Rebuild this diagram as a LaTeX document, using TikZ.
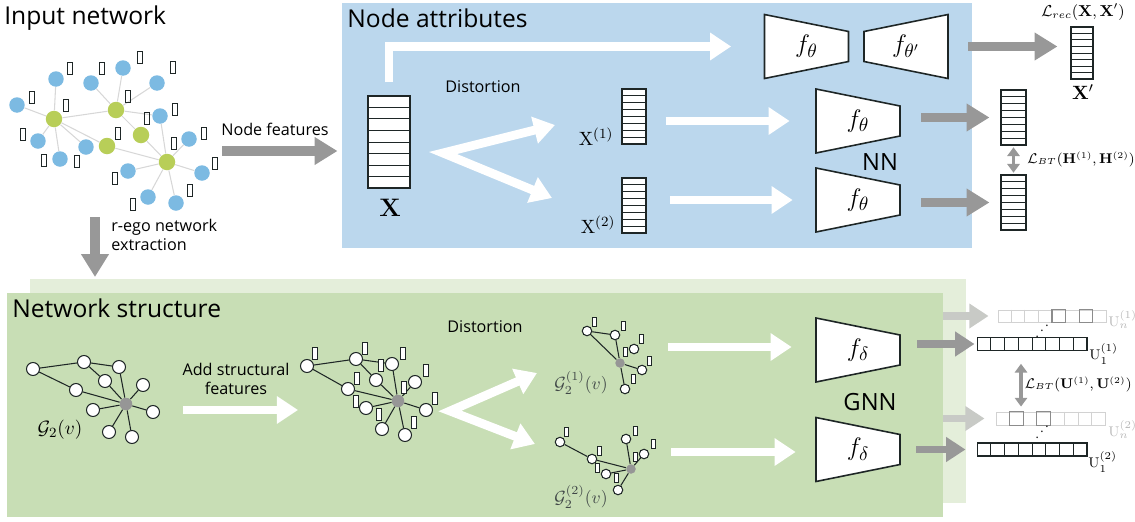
\documentclass[tikz,border=0pt]{standalone}
\usepackage[no-math]{fontspec}
\setmainfont{Open Sans}
\usepackage{tikz}
\usetikzlibrary{arrows.meta, positioning, calc}

\definecolor{panelblue}{RGB}{187,215,237}
\definecolor{panelgreen}{RGB}{200,222,181}
\definecolor{backgreen}{RGB}{228,238,218}
\definecolor{netblue}{RGB}{124,186,226}
\definecolor{netgreen}{RGB}{184,206,88}
\definecolor{arrgray}{RGB}{152,152,152}
\definecolor{fadearr}{RGB}{200,202,198}
\definecolor{lightline}{RGB}{210,210,210}
\definecolor{midline}{RGB}{140,140,140}
\definecolor{fadetext}{RGB}{185,185,185}
\definecolor{edgegray}{RGB}{215,215,215}
\definecolor{hubgray}{RGB}{150,150,150}
\definecolor{ink}{RGB}{30,38,38}

% rows and cells of the feature vectors
\newcommand{\vrows}[1]{%
  \foreach \k in {1,...,7}{\draw[vecline] ($(#1.north west)!\k/8!(#1.south west)$) -- ($(#1.north east)!\k/8!(#1.south east)$);}}
\newcommand{\hcells}[2][vecline]{%
  \foreach \k in {1,...,7}{\draw[#1] ($(#2.north west)!\k/8!(#2.north east)$) -- ($(#2.south west)!\k/8!(#2.south east)$);}}
\newcommand{\hmark}[2]{%
  \draw[draw=midline, line width=0.6pt] ($(#1.north west)!#2/8-1/8!(#1.north east)$) rectangle ($(#1.south west)!#2/8!(#1.south east)$);}
% encoder (wide side left) and decoder (wide side right)
\newcommand{\enc}[4]{%
  \draw[trap] (#2-42,#3-32) -- (#2+42,#3-15) -- (#2+42,#3+15) -- (#2-42,#3+32) -- cycle;
  \node[flab] (#1) at (#2,#3) {#4};}
\newcommand{\dec}[4]{%
  \draw[trap] (#2-42,#3-15) -- (#2+42,#3-32) -- (#2+42,#3+32) -- (#2-42,#3+15) -- cycle;
  \node[flab] (#1) at (#2,#3) {#4};}
\newcommand{\updots}{\mathinner{\mkern1mu\raise1pt\vbox{\kern7pt\hbox{.}}\mkern2mu\raise4pt\hbox{.}\mkern2mu\raise7pt\hbox{.}\mkern1mu}}

\begin{document}
\begin{tikzpicture}[x=0.02cm, y=-0.02cm,
  title/.style={font=\fontsize{14}{16}\selectfont, anchor=west, inner sep=0},
  lbl/.style={font=\fontsize{9.2}{11.2}\selectfont, inner sep=0, align=center},
  big/.style={font=\fontsize{13.5}{16}\selectfont, inner sep=0},
  mlab/.style={font=\fontsize{8.8}{10}\selectfont, inner sep=0},
  btlab/.style={font=\fontsize{7.7}{9}\selectfont, inner sep=0, anchor=west},
  bnode/.style={circle, fill=netblue, minimum size=0.31cm, inner sep=0},
  gnode/.style={circle, fill=netgreen, minimum size=0.33cm, inner sep=0},
  ifeat/.style={draw=ink, line width=0.5pt, minimum width=0.1cm, minimum height=0.24cm, inner sep=0},
  iedge/.style={draw=edgegray, line width=0.6pt},
  wnode/.style={circle, draw=ink, fill=white, line width=0.6pt, minimum size=0.26cm, inner sep=0},
  hub/.style={circle, fill=hubgray, minimum size=0.25cm, inner sep=0},
  snode/.style={wnode, minimum size=0.19cm},
  shub/.style={hub, minimum size=0.19cm},
  sfeat/.style={draw=ink, fill=white, line width=0.5pt, minimum width=0.1cm, minimum height=0.24cm, inner sep=0},
  tfeat/.style={sfeat, minimum width=0.08cm, minimum height=0.19cm},
  sedge/.style={draw=ink, line width=0.6pt},
  glab/.style={font=\fontsize{10}{12}\selectfont, text=ink!85, inner sep=0},
  vecbox/.style={draw=ink, fill=white, line width=0.6pt, inner sep=0},
  vecline/.style={draw=ink, line width=0.5pt},
  fadebox/.style={draw=lightline, fill=white, line width=0.5pt, inner sep=0},
  fadecell/.style={draw=lightline, line width=0.5pt},
  trap/.style={draw=ink, fill=white, line width=0.9pt},
  flab/.style={minimum width=1.68cm, minimum height=0.6cm, inner sep=0, font=\fontsize{15}{17}\selectfont},
  whitearr/.style={draw=white, line width=5pt, -{Triangle[length=12pt, width=15pt]}},
  grayarr/.style={draw=arrgray, line width=5.5pt, -{Triangle[length=13pt, width=15pt]}},
  uarr/.style={draw=arrgray, line width=4.5pt, -{Triangle[length=11pt, width=13.5pt]}},
  fadearrow/.style={uarr, draw=fadearr},
  dblarr/.style={draw=arrgray, line width=2.2pt, {Triangle[length=5pt, width=7pt]}-{Triangle[length=5pt, width=7pt]}}
]
\useasboundingbox (0,0) rectangle (1135,521);

% panels
\fill[backgreen] (30,279) rectangle (966,503);
\fill[panelgreen] (7,293) rectangle (943,517);
\fill[panelblue] (342,3) rectangle (972,248);

% ---- input network ----
\node[title] (tin) at (4,18) {Input network};
\foreach \n/\x/\y in {b1/17/105, b2/56/79, b3/38/141, b4/60/159, b5/86/147, b6/91/83, b7/123/68,
  b8/157/83, b9/160/116, b10/189/139, b11/128/171, b12/202/173, b13/148/197, b14/176/203}
  \node[bnode] (\n) at (\x,\y) {};
\foreach \n/\x/\y in {g1/54/119, g2/116/110, g3/107/146, g4/141/135, g5/167/162}
  \node[gnode] (\n) at (\x,\y) {};
\foreach \a/\b in {g1/b1, g1/b2, g1/b3, g1/b4, g1/g2, g1/g3, g1/b5, g3/g5, g2/b6, g2/b7, g2/b8,
  g2/g4, g2/b9, g4/g5, g5/b9, g5/b10, g5/b11, g5/b12, g5/b13, g5/b14}
  \draw[iedge] (\a) -- (\b);
\foreach \x/\y [count=\i] in {70/68, 102/68, 140/57, 173/67, 32/97, 66/105, 128/96, 147/118, 175/109,
  23/134, 118/133, 174/143, 204/133, 44/160, 77/161, 215/163, 115/178, 190/190, 133/204}
  \node[ifeat] (if\i) at (\x,\y) {};

\coordinate (nf) at (222,151);
\coordinate (eg) at (95,217);
\coordinate (ge) at (95,277);
\node[lbl] (lnf) at (275,129) {Node features};
\node[lbl, align=left, anchor=west] (leg) at (111,235) {r-ego network\\extraction};
\draw[grayarr] (eg) -- (ge);

% ---- node attributes ----
\node[title] (tna) at (347,18) {Node attributes};
\node[vecbox, minimum width=0.84cm, minimum height=1.84cm] (X) at (389,142) {};
\vrows{X}
\node[font=\fontsize{14}{16}\selectfont, inner sep=0] (lX) at (390,208) {$\mathbf{X}$};
\draw[grayarr, shorten >=0.6cm] (nf) -- (nf -| X.west);

\node[lbl] (ldis) at (483,87) {Distortion};
\node[vecbox, minimum width=0.48cm, minimum height=1.1cm] (X1) at (634,116.5) {};
\vrows{X1}
\node[vecbox, minimum width=0.48cm, minimum height=1.1cm] (X2) at (634,205.5) {};
\vrows{X2}
\node[font=\fontsize{11}{13}\selectfont, inner sep=0] (lX1) at (596,137) {$\mathrm{X}^{(1)}$};
\node[font=\fontsize{11}{13}\selectfont, inner sep=0] (lX2) at (598,225) {$\mathrm{X}^{(2)}$};
\coordinate (fa) at (443,153);
\coordinate (fa1) at (555,125);
\coordinate (fa2) at (552,198);
\draw[whitearr, {Triangle[length=12pt, width=15pt]}-{Triangle[length=12pt, width=15pt]}] (fa1) -- (fa) -- (fa2);

\enc{e0}{806.5}{46.5}{$f_\theta$}
\dec{d0}{906}{46.5}{$f_{\theta'}$}
\enc{nn1}{858}{121}{$f_\theta$}
\enc{nn2}{858}{200}{$f_\theta$}
\node[big] (lnn) at (880,162) {NN};

\draw[whitearr, shorten >=0.66cm] ([yshift=0.26cm]X.north) |- (e0.west);
\draw[whitearr, shorten <=0.38cm, shorten >=0.52cm] (X1.east |- nn1) -- (nn1.west);
\draw[whitearr, shorten <=0.46cm, shorten >=0.46cm] (X2.east |- nn2) -- (nn2.west);

% outputs
\node[vecbox, minimum width=0.44cm, minimum height=1.04cm] (Xp) at (1082,53) {};
\vrows{Xp}
\node[vecbox, minimum width=0.5cm, minimum height=1.1cm] (H1) at (1013.5,117.5) {};
\vrows{H1}
\node[vecbox, minimum width=0.5cm, minimum height=1.1cm] (H2) at (1013.5,202.5) {};
\vrows{H2}
\node[mlab] (lrec) at (1083,12) {$\mathcal{L}_{rec}(\mathbf{X},\mathbf{X}')$};
\node[font=\fontsize{11}{13}\selectfont, inner sep=0] (lXp) at (1083,92) {$\mathbf{X}'$};
\node[btlab] (lbth) at (1027,159) {$\mathcal{L}_{BT}(\mathbf{H}^{(1)},\mathbf{H}^{(2)})$};
\draw[grayarr, shorten <=0.4cm, shorten >=0.26cm] (d0.east) -- (d0.east -| Xp.west);
\draw[grayarr, shorten <=0.42cm, shorten >=0.22cm] (nn1.east |- H1) -- (H1.west);
\draw[grayarr, shorten <=0.42cm, shorten >=0.22cm] (nn2.east |- H2) -- (H2.west);
\draw[dblarr, shorten <=1pt, shorten >=1pt] (H1.south) -- (H2.north);

% ---- network structure ----
\node[title] (tns) at (12,308) {Network structure};
\foreach \n/\x/\y in {a1/33/369, a2/84/362, a3/119/367, a4/105/381, a5/76/390, a6/143/385,
  a7/93/410, a8/153/412, a9/109/432, a10/132/437}
  \node[wnode] (\n) at (\x,\y) {};
\node[hub] (ac) at (126,404) {};
\foreach \a/\b in {a1/a2, a1/a5, a2/a3, a2/a4, a4/ac, a3/ac, a5/ac, a6/ac, a7/ac, a8/ac, a9/ac, a10/ac}
  \draw[sedge] (\a) -- (\b);
\node[font=\fontsize{11}{13}\selectfont, inner sep=0] (lg) at (60,430) {$\mathcal{G}_2(v)$};

\node[lbl] (lasf) at (236,379) {Add structural\\features};
\coordinate (as1) at (183,410);
\coordinate (as2) at (298,410);
\draw[whitearr] (as1) -- (as2);

\foreach \n/\x/\y in {m1/307/366, m2/356/359, m3/392/364, m4/376/380, m5/348/389, m6/415/382,
  m7/366/408, m8/426/410, m9/382/429, m10/405/435}
  \node[wnode] (\n) at (\x,\y) {};
\node[hub] (mc) at (398,401) {};
\foreach \a/\b in {m1/m2, m1/m5, m2/m3, m2/m4, m4/mc, m3/mc, m5/mc, m6/mc, m7/mc, m8/mc, m9/mc, m10/mc}
  \draw[sedge] (\a) -- (\b);
\foreach \x/\y [count=\i] in {315/353, 365/348, 403/353, 381/365, 426/370, 357/378, 404/387,
  356/401, 435/398, 379/414, 414/422}
  \node[sfeat] (mf\i) at (\x,\y) {};

\node[lbl] (ldis2) at (485,327) {Distortion};
\coordinate (fb) at (450,411);
\coordinate (fb1) at (537,373);
\coordinate (fb2) at (535,444);
\draw[whitearr, {Triangle[length=12pt, width=15pt]}-{Triangle[length=12pt, width=15pt]}] (fb1) -- (fb) -- (fb2);

% distorted views
\foreach \n/\x/\y in {p1/587/331, p2/615/335, p3/634/349, p4/642/370, p5/625/389}
  \node[snode] (\n) at (\x,\y) {};
\node[shub] (pc) at (620,363) {};
\foreach \a/\b in {p1/p2, p1/pc, p2/pc, pc/p4, pc/p5}
  \draw[sedge] (\a) -- (\b);
\foreach \x/\y [count=\i] in {594/322, 623/326, 641/339, 625/352, 649/361, 633/379}
  \node[tfeat] (pf\i) at (\x,\y) {};
\node[glab] (lg1) at (581,383) {$\mathcal{G}_2^{(1)}(v)$};

\foreach \n/\x/\y in {q1/560/442, q2/592/459, q3/606/474, q4/626/439, q5/644/454, q6/618/490}
  \node[snode] (\n) at (\x,\y) {};
\node[shub] (qc) at (631,469) {};
\foreach \a/\b in {q1/q2, q2/qc, q3/qc, q4/qc, q5/qc, q6/qc}
  \draw[sedge] (\a) -- (\b);
\foreach \x/\y [count=\i] in {566/432, 599/451, 635/431, 653/444, 635/457, 597/468, 616/478}
  \node[tfeat] (qf\i) at (\x,\y) {};
\node[glab] (lg2) at (581,497) {$\mathcal{G}_2^{(2)}(v)$};

\enc{gnn1}{858}{350}{$f_\delta$}
\enc{gnn2}{858}{449.5}{$f_\delta$}
\node[big] (lgnn) at (870,402) {GNN};
\coordinate (w1) at (668,347);
\coordinate (w2) at (671,452);
\draw[whitearr, shorten >=0.48cm] (w1) -- (w1 -| gnn1.west);
\draw[whitearr, shorten >=0.4cm] (w2) -- (w2 -| gnn2.west);

% node embeddings
\node[fadebox, minimum width=2.16cm, minimum height=0.24cm] (Un1) at (1052,316) {};
\hcells[fadecell]{Un1}
\hmark{Un1}{5}
\hmark{Un1}{7}
\node[vecbox, minimum width=2.2cm, minimum height=0.25cm] (U11) at (1032,344) {};
\hcells{U11}
\node[fadebox, minimum width=2.18cm, minimum height=0.26cm] (Un2) at (1050.5,418.5) {};
\hcells[fadecell]{Un2}
\hmark{Un2}{2}
\hmark{Un2}{4}
\node[vecbox, minimum width=2.2cm, minimum height=0.26cm] (U12) at (1032,449.5) {};
\hcells{U12}
\node[inner sep=0, font=\fontsize{7}{8}\selectfont] (dt1) at (1042,331) {$\updots$};
\node[inner sep=0, font=\fontsize{7}{8}\selectfont] (dt2) at (1042,432) {$\updots$};

\node[font=\fontsize{8.5}{10}\selectfont, text=fadetext, inner sep=0, anchor=west] (lun1) at (1108,320) {$\mathrm{U}_n^{(1)}$};
\node[font=\fontsize{8.5}{10}\selectfont, inner sep=0, anchor=west] (lu11) at (1089,354) {$\mathrm{U}_1^{(1)}$};
\node[font=\fontsize{8.5}{10}\selectfont, text=fadetext, inner sep=0, anchor=west] (lun2) at (1108,430) {$\mathrm{U}_n^{(2)}$};
\node[font=\fontsize{8.5}{10}\selectfont, inner sep=0, anchor=west] (lu12) at (1088,462) {$\mathrm{U}_1^{(2)}$};
\node[btlab, anchor=east] (lbtu) at (1132,384) {$\mathcal{L}_{BT}(\mathbf{U}^{(1)},\mathbf{U}^{(2)})$};

\coordinate (fu1) at (943,316);
\coordinate (fu2) at (943,418.5);
\draw[fadearrow, shorten >=0.18cm] (fu1) -- (Un1.west);
\draw[fadearrow, shorten >=0.22cm] (fu2) -- (Un2.west);
\draw[uarr, shorten <=0.34cm, shorten >=0.04cm] (gnn1.east |- U11) -- (U11.west);
\draw[uarr, shorten <=0.32cm, shorten >=0.22cm] (gnn2.east |- U12) -- (U12.west);
\draw[dblarr, shorten <=0.26cm, shorten >=0.1cm] ([xshift=-0.22cm]U11.south) -- ([xshift=-0.22cm]U11.south |- Un2.north);
\end{tikzpicture}
\end{document}
